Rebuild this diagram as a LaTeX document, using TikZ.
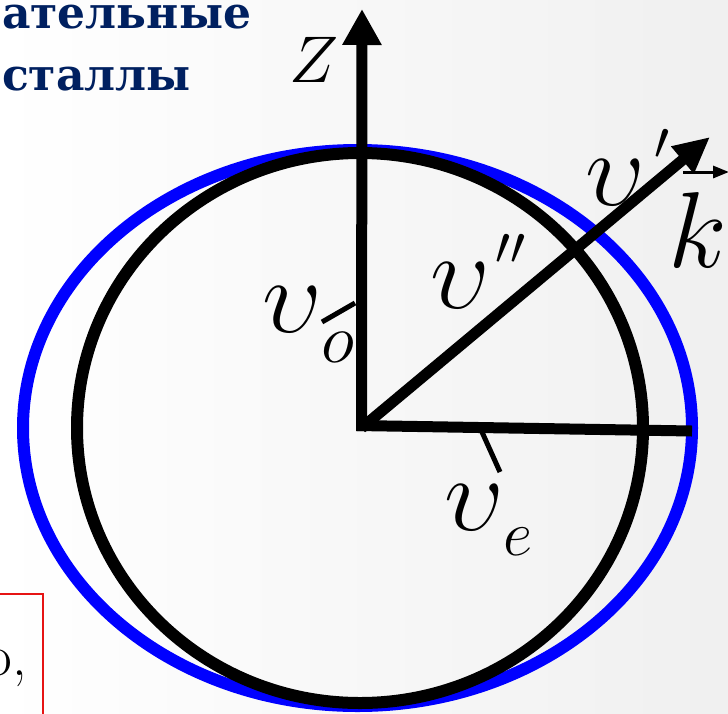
\RequirePackage{fix-cm}
\documentclass[tikz,border=0pt]{standalone}
\usepackage{fontspec}
\newfontfamily\headfont{DejaVu Serif}
\usetikzlibrary{arrows.meta}
\definecolor{navy}{RGB}{0,32,96}
\definecolor{pureblue}{RGB}{0,0,255}
\definecolor{pagered}{RGB}{230,20,20}
\begin{document}
\begin{tikzpicture}[x=1pt,y=-1pt,
  lbl/.style={inner sep=0pt, anchor=base west, font=\fontsize{106}{106}\selectfont},
  headtxt/.style={inner sep=0pt, anchor=base west, text=navy, font=\headfont\bfseries\fontsize{44}{44}\selectfont},
  axisline/.style={line width=11pt},
  bigtip/.style={-{Triangle[length=36pt,width=37pt]}},
  tickline/.style={line width=5pt},
  ring/.style={line width=12pt}]
\useasboundingbox (0,0) rectangle (728,713);
\shade[left color=white, right color=black!6] (0,0) rectangle (728,713);
% heading fragments
\node[headtxt] (h1) at (2,28) {ательные};
\node[headtxt] (h2) at (2,90) {сталлы};
% red box fragment
\draw[pagered, line width=1.5pt] (-10,594) -- (43,594) -- (43,720);
\node[inner sep=0pt, anchor=base east, font=\fontsize{58}{58}\selectfont] (rb) at (27,675) {o,};
% ellipses
\draw[ring, pureblue] (357.5,428) ellipse [x radius=334.5, y radius=278];
\draw[ring, black] (360,428) ellipse [x radius=283, y radius=275];
% axes
\coordinate (O) at (361.5,428);
\coordinate (Ob) at (361.5,431);
\coordinate (Zt) at (362,9);
\coordinate (Oh) at (357,425.5);
\coordinate (E) at (692,431);
\coordinate (Dt) at (710,137);
\draw[axisline] (Oh) -- (E);
\draw[axisline, bigtip] (Ob) -- (Zt);
\draw[axisline, -{Triangle[length=36pt,width=33pt]}] (O) -- (Dt);
% k vector
\coordinate (ka) at (683,172);
\coordinate (kb) at (729,172);
\draw[line width=3pt, -{Triangle[length=16pt,width=12pt]}] (ka) -- (kb);
% ticks
\coordinate (to1) at (322,322);
\coordinate (to2) at (355,303);
\coordinate (te1) at (482,432);
\coordinate (te2) at (500,472);
\draw[tickline] (to1) -- (to2);
\draw[tickline] (te1) -- (te2);
% labels
\node[lbl, font=\fontsize{66}{66}\selectfont] (z) at (289,82) {$Z$};
\node[lbl, font=\fontsize{108}{108}\selectfont] (k) at (668,267) {$k$};
\node[lbl] (v1) at (585,205) {$\upsilon$\hspace{10pt}\raisebox{46pt}{\fontsize{54}{54}\selectfont$\prime$}};
\node[lbl] (v2) at (430,308) {$\upsilon$\hspace{6pt}\raisebox{44pt}{\fontsize{54}{54}\selectfont$\prime\prime$}};
\node[lbl] (vo) at (262,332) {$\upsilon$\raisebox{-30pt}{\fontsize{70}{70}\selectfont$o$}};
\node[lbl] (ve) at (444,530) {$\upsilon$\raisebox{-25pt}{\fontsize{64}{64}\selectfont$e$}};
\end{tikzpicture}
\end{document}
